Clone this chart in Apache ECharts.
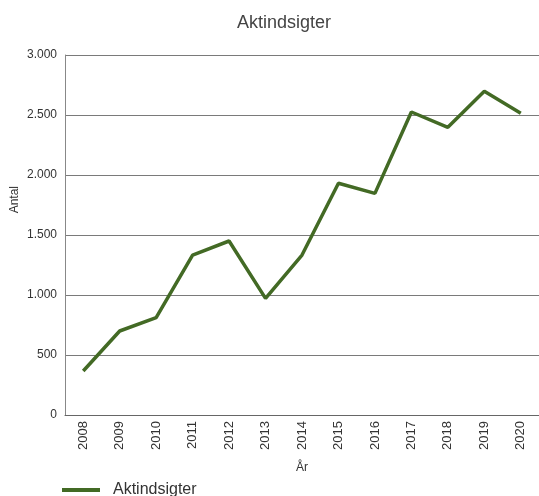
<!DOCTYPE html>
<html><head><meta charset="utf-8">
<script src="https://cdn.jsdelivr.net/npm/echarts@6/dist/echarts.min.js"></script>
<style>html,body{margin:0;padding:0;background:#fff}#c{width:539px;height:496px}</style>
</head><body><div id="c"></div>
<script>
var years = ['2008','2009','2010','2011','2012','2013','2014','2015','2016','2017','2018','2019','2020'];
var aktindsigter = [367, 700, 811, 1333, 1450, 972, 1333, 1931, 1847, 2525, 2397, 2697, 2514];
var seriesName = 'Aktindsigter';
var titleText = 'Aktindsigter';
var yName = 'Antal';
var xName = 'År';

var chart = echarts.init(document.getElementById('c'), null, {renderer:'canvas'});
var font = 'Liberation Sans, Arial, sans-serif';
chart.setOption({
  animation: false,
  title: { text: titleText, left: 232, top: 9, textStyle: { fontFamily: font, fontSize: 18, fontWeight: 'normal', color: '#444' } },
  legend: { data: [seriesName], left: 57, top: 477, itemWidth: 38, itemHeight: 4, itemGap: 8, icon: 'rect',
    textStyle: { fontFamily: font, fontSize: 16, color: '#333', padding: [0, 0, 0, 8] } },
  graphic: [{ type: 'text', left: 9, top: 186, rotation: Math.PI/2,
    style: { text: yName, fontFamily: font, fontSize: 12, fill: '#333' } }],
  grid: { left: 65, right: -5.5, top: 55, bottom: 81, containLabel: false },
  xAxis: {
    type: 'category', data: years, boundaryGap: true,
    name: xName, nameLocation: 'middle', nameGap: 47,
    nameTextStyle: { fontFamily: font, fontSize: 12, color: '#333' },
    axisLine: { lineStyle: { color: '#666', width: 1 } },
    axisTick: { inside: true, length: 8, lineStyle: { color: '#666' } },
    axisLabel: { rotate: 90, fontFamily: font, fontSize: 13, color: '#333', margin: 6 }
  },
  yAxis: {
    type: 'value', min: 0, max: 3000, interval: 500,
    axisLine: { show: true, lineStyle: { color: '#888', width: 1 } },
    axisTick: { show: false },
    splitLine: { lineStyle: { color: '#7a7a7a', width: 1 } },
    axisLabel: { fontFamily: font, fontSize: 12, color: '#333', margin: 8,
      formatter: function (v) { return v.toString().replace(/\B(?=(\d{3})+(?!\d))/g, '.'); } }
  },
  series: [{ name: seriesName, type: 'line', data: aktindsigter, symbol: 'none',
    lineStyle: { color: '#436a25', width: 3.5 }, itemStyle: { color: '#436a25' } }]
});
</script></body></html>
